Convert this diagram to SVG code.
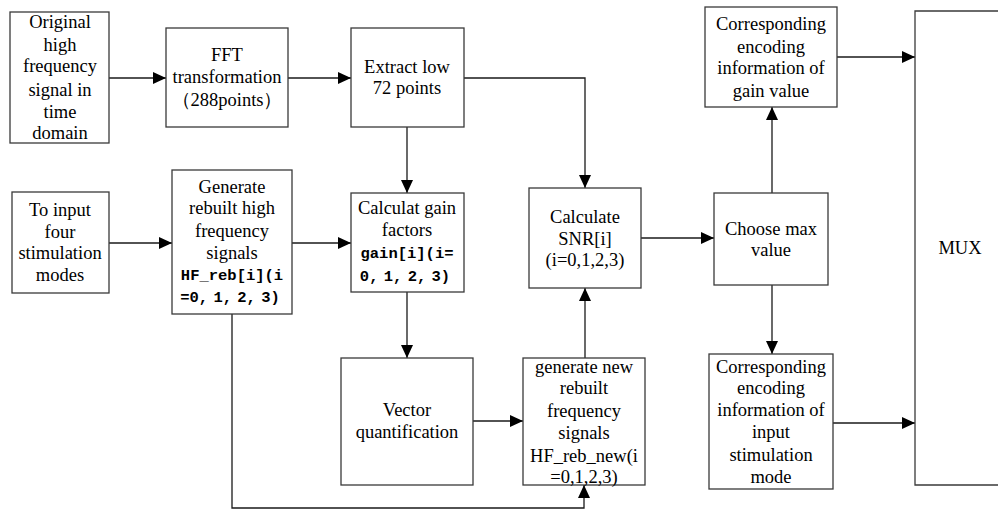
<svg xmlns="http://www.w3.org/2000/svg" width="998" height="512" viewBox="0 0 998 512">
<style>
.box{fill:#fff;stroke:#3a3a3a;stroke-width:1.3}
.t{font-family:"Liberation Serif","Times New Roman",serif;font-size:18.5px;fill:#000;text-anchor:middle}
.m{font-family:"Liberation Mono","DejaVu Sans Mono",monospace;font-size:15.5px;font-weight:bold;fill:#000;text-anchor:middle}
.c{fill:none;stroke:#1a1a1a;stroke-width:1.3}
</style>
<defs>
<marker id="ah" markerUnits="userSpaceOnUse" markerWidth="13" markerHeight="12" refX="13" refY="6" orient="auto">
<path d="M0,0 L13,6 L0,12 z" fill="#000"/>
</marker>
</defs>
<g id="connectors" class="c">
<path d="M109,78 H166" marker-end="url(#ah)"/>
<path d="M288,78 H351" marker-end="url(#ah)"/>
<path d="M464,78 H585 V188" marker-end="url(#ah)"/>
<path d="M407,127 V193" marker-end="url(#ah)"/>
<path d="M109,243 H172" marker-end="url(#ah)"/>
<path d="M292,243 H351" marker-end="url(#ah)"/>
<path d="M407,292 V358" marker-end="url(#ah)"/>
<path d="M473,421 H523" marker-end="url(#ah)"/>
<path d="M232,314 V508 H584 V485" marker-end="url(#ah)"/>
<path d="M585,358 V288" marker-end="url(#ah)"/>
<path d="M641,238 H714" marker-end="url(#ah)"/>
<path d="M772,193 V107" marker-end="url(#ah)"/>
<path d="M772,285 V354" marker-end="url(#ah)"/>
<path d="M837,57 H915" marker-end="url(#ah)"/>
<path d="M833,423 H915" marker-end="url(#ah)"/>
</g>
<g id="original">
<rect class="box" x="10" y="12" width="99" height="131"/>
<text class="t" x="60" y="28">Original</text>
<text class="t" x="60" y="51">high</text>
<text class="t" x="60" y="72">frequency</text>
<text class="t" x="60" y="96">signal in</text>
<text class="t" x="60" y="118">time</text>
<text class="t" x="60" y="139">domain</text>
</g>
<g id="fft">
<rect class="box" x="166" y="28" width="122" height="99"/>
<text class="t" x="227" y="61">FFT</text>
<text class="t" x="227" y="83">transformation</text>
<text class="t" x="227" y="106">（288points）</text>
</g>
<g id="extract">
<rect class="box" x="351" y="28" width="113" height="99"/>
<text class="t" x="407" y="73">Extract low</text>
<text class="t" x="407" y="94">72 points</text>
</g>
<g id="gain-encoding">
<rect class="box" x="705" y="7" width="132" height="100"/>
<text class="t" x="771" y="30">Corresponding</text>
<text class="t" x="771" y="53">encoding</text>
<text class="t" x="771" y="74">information of</text>
<text class="t" x="771" y="97">gain value</text>
</g>
<g id="input-modes">
<rect class="box" x="12" y="192" width="97" height="101"/>
<text class="t" x="60" y="216">To input</text>
<text class="t" x="60" y="238">four</text>
<text class="t" x="60" y="259">stimulation</text>
<text class="t" x="60" y="281">modes</text>
</g>
<g id="generate">
<rect class="box" x="172" y="170" width="120" height="144"/>
<text class="t" x="232" y="193">Generate</text>
<text class="t" x="232" y="214">rebuilt high</text>
<text class="t" x="232" y="237">frequency</text>
<text class="t" x="232" y="259">signals</text>
<text class="m" x="232" y="280">HF_reb[i](i</text>
<text class="m" x="230" y="302" word-spacing="-4">=0, 1, 2, 3)</text>
</g>
<g id="gain">
<rect class="box" x="351" y="193" width="113" height="99"/>
<text class="t" x="407" y="214">Calculat gain</text>
<text class="t" x="407" y="236">factors</text>
<text class="m" x="407" y="258">gain[i](i=</text>
<text class="m" x="405" y="281" word-spacing="-4">0, 1, 2, 3)</text>
</g>
<g id="snr">
<rect class="box" x="529" y="188" width="112" height="100"/>
<text class="t" x="585" y="223">Calculate</text>
<text class="t" x="585" y="245">SNR[i]</text>
<text class="t" x="585" y="266">(i=0,1,2,3)</text>
</g>
<g id="choose">
<rect class="box" x="714" y="193" width="114" height="92"/>
<text class="t" x="771" y="235">Choose max</text>
<text class="t" x="771" y="256">value</text>
</g>
<g id="mux">
<path class="box" d="M998,11 H915 V485 H998" fill="none"/>
<text class="t" x="960" y="254">MUX</text>
</g>
<g id="vector">
<rect class="box" x="341" y="358" width="132" height="127"/>
<text class="t" x="407" y="416">Vector</text>
<text class="t" x="407" y="438">quantification</text>
</g>
<g id="generate-new">
<rect class="box" x="523" y="358" width="122" height="127"/>
<text class="t" x="584" y="373">generate new</text>
<text class="t" x="584" y="394">rebuilt</text>
<text class="t" x="584" y="417">frequency</text>
<text class="t" x="584" y="439">signals</text>
<text class="t" x="584" y="462">HF_reb_new(i</text>
<text class="t" x="584" y="483">=0,1,2,3)</text>
</g>
<g id="mode-encoding">
<rect class="box" x="709" y="354" width="124" height="135"/>
<text class="t" x="771" y="373">Corresponding</text>
<text class="t" x="771" y="394">encoding</text>
<text class="t" x="771" y="416">information of</text>
<text class="t" x="771" y="438">input</text>
<text class="t" x="771" y="461">stimulation</text>
<text class="t" x="771" y="483">mode</text>
</g>
</svg>
